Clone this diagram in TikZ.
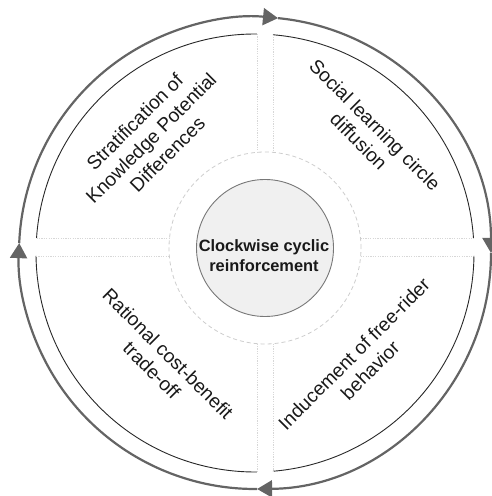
\documentclass[tikz,border=0pt]{standalone}
\usepackage{fontspec}
\setmainfont{Liberation Sans}
\usetikzlibrary{arrows.meta}
\definecolor{ringgray}{RGB}{100,100,100}
\definecolor{sepgray}{RGB}{215,215,215}
\definecolor{dashgray}{RGB}{205,205,205}
\definecolor{hubfill}{RGB}{240,240,240}
\definecolor{hubdraw}{RGB}{120,120,120}
\definecolor{arcline}{RGB}{40,40,40}
\begin{document}
\begin{tikzpicture}[x=1pt,y=1pt,
  ring/.style={draw=ringgray, line width=2.2pt, -{Triangle[length=15pt,width=17pt]}},
  rim/.style={draw=arcline, line width=0.9pt},
  sep/.style={draw=sepgray, line width=0.8pt, dash pattern=on 1.2pt off 1.2pt},
  guide/.style={draw=dashgray, line width=0.8pt, dash pattern=on 4pt off 3pt},
  hub/.style={circle, draw=hubdraw, fill=hubfill, line width=0.9pt, minimum size=137pt, inner sep=0pt},
  lab/.style={align=center, font=\fontsize{19.2}{23}\selectfont, text=black!90},
  hubtext/.style={align=center, font=\fontsize{16.4}{20}\selectfont\bfseries, text=black!90}
]
\useasboundingbox (0,0) rectangle (491,496);
\coordinate (O) at (255,243);
\coordinate (C) at (265,248);

% outer clockwise ring
\draw[ring] (O) ++(177.6:236) arc[start angle=177.6,end angle=84.4,radius=236];
\draw[ring] (O) ++(84.4:236) arc[start angle=84.4,end angle=0,radius=236];
\draw[ring] (O) ++(0:236) arc[start angle=0,end angle=-89.5,radius=236];
\draw[ring] (O) ++(-89.5:236) arc[start angle=-89.5,end angle=-182.4,radius=236];

% quadrant rims
\draw[rim] (O) ++(176.07:219) arc[start angle=176.07,end angle=89.48,radius=219];
\draw[rim] (O) ++(85.29:219) arc[start angle=85.29,end angle=3.93,radius=219];
\draw[rim] (O) ++(-0.78:219) arc[start angle=-0.78,end angle=-85.29,radius=219];
\draw[rim] (O) ++(-89.48:219) arc[start angle=-89.48,end angle=-179.22,radius=219];

% separators
\draw[sep] (257,462) -- (257,343.7);
\draw[sep] (273,461.3) -- (273,343.7);
\draw[sep] (257,152.3) -- (257,24);
\draw[sep] (273,152.3) -- (273,24.7);
\draw[sep] (36.5,258) -- (169.5,258);
\draw[sep] (360.5,258) -- (473.5,258);
\draw[sep] (36,240) -- (169.3,240);
\draw[sep] (360.7,240) -- (474,240);

% dashed guide circle
\draw[guide] (C) circle[radius=96];

% hub
\node[hub] (hub) at (C) {};
\node[hubtext] (hubtxt) at (264,240) {Clockwise cyclic\\reinforcement};

% labels
\node[lab, rotate=45] (tl) at (151,358) {Stratification of\\Knowledge Potential\\Differences};
\node[lab, rotate=-45] (tr) at (367,363) {Social learning circle\\diffusion};
\node[lab, rotate=-45] (bl) at (160,134) {Rational cost-benefit\\trade-off};
\node[lab, rotate=45] (br) at (362,134) {Inducement of free-rider\\behavior};
\end{tikzpicture}
\end{document}
